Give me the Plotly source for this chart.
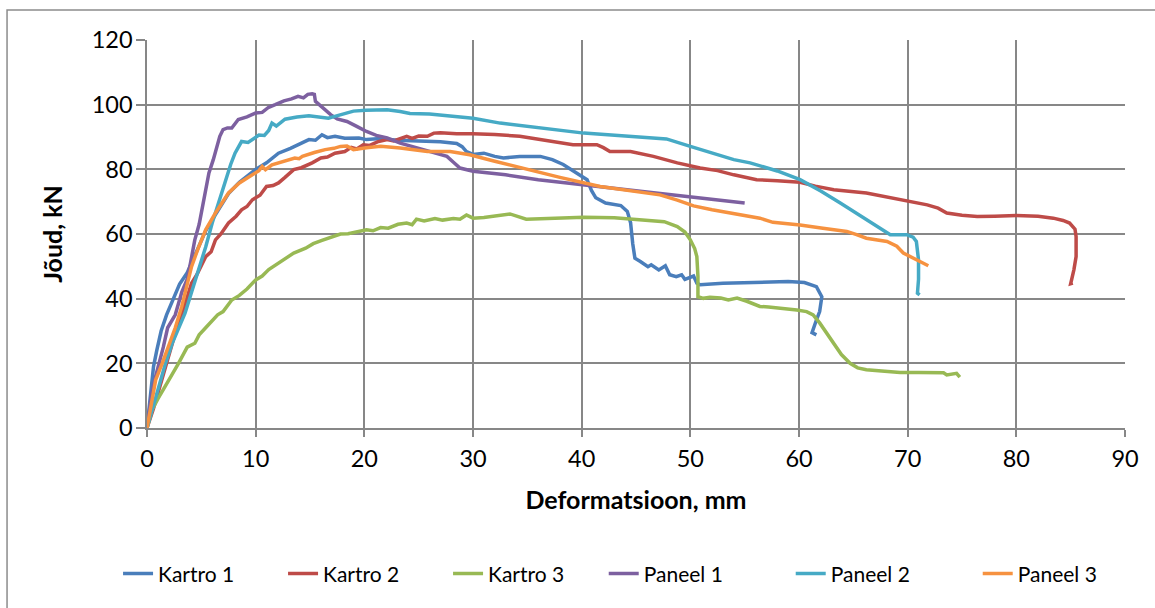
import plotly.graph_objects as go

# Force–deformation curves (deformation in mm, force in kN)
kartro1_x = [0, 0.3, 0.6, 0.9, 1.3, 1.8, 2.4, 3.0, 3.7, 4.2, 5.0, 5.4, 6.3, 7.5, 8.5, 10, 11, 12.1, 13.2, 14.2,
             14.9, 15.5, 16.1, 16.6, 17.3, 18.2, 19.5, 20.2, 21.5, 23, 25, 27, 28.5, 29, 29.4, 30, 31, 32, 32.8,
             34.3, 36.2, 37.3, 38.3, 39.3, 40.5, 40.9, 41.3, 42.2, 43.6, 44.2, 44.5, 44.7, 44.9, 45.4, 46.1,
             46.4, 47.1, 47.7, 48.1, 48.7, 49.2, 49.5, 50.3, 50.6, 50.9, 53, 56.4, 59, 60.5, 61.6, 62.1, 61.9,
             61.6, 61.2, 61.6]
kartro1_y = [0, 10, 19, 24, 30, 35, 40, 44.5, 48, 52, 58, 61, 66, 72.5, 76, 80, 82, 85, 86.5, 88,
             89.2, 89, 90.7, 89.8, 90.2, 89.6, 89.7, 89.2, 89.5, 89, 88.8, 88.5, 88, 87, 85.5, 84.6, 85, 84, 83.5,
             84, 84, 83, 81.5, 79.5, 76.8, 73.5, 71.2, 69.6, 68.8, 67, 63.5, 57, 52.5, 51.5, 49.9,
             50.5, 48.9, 50.2, 47.4, 46.8, 47.4, 46, 47, 44.8, 44.3, 44.8, 45.2, 45.3, 45, 43.7, 40.6, 36,
             33.4, 29.5, 28.8]

kartro2_x = [0, 0.6, 1.2, 1.8, 2.4, 3.0, 3.6, 4.1, 4.6, 5.0, 5.4, 5.9, 6.3, 6.8, 7.5, 8.2, 8.7, 9.2, 9.7, 10.4,
             11, 11.6, 12.1, 12.7, 13.5, 14.2, 15.2, 16.0, 16.6, 17.3, 18.2, 18.8, 19.3, 19.9, 20.5, 21.2, 22.1,
             22.7, 23.3, 23.9, 24.4, 25, 25.8, 26.4, 27, 28.5, 30, 32, 34.3, 35.5, 37.1, 39.2, 41.4, 42, 42.6,
             44.5, 46.6, 48.8, 50.9, 52.5, 54, 56.1, 58, 60.1, 61.5, 63.2, 66.2, 69.3, 71.8, 72.8, 73.6, 75,
             76.4, 78, 80, 82, 83.4, 84.3, 84.9, 85.4, 85.5, 85.5, 85.5, 85.3, 85.1, 85.0, 85.2]
kartro2_y = [0, 6, 13, 20, 27, 33, 39, 44.8, 47.5, 50, 53, 54.5, 58.2, 60, 63.4, 65.5, 67.5, 68.5, 70.6, 72,
             74.7, 75, 75.8, 77.5, 79.9, 80.5, 82, 83.5, 83.8, 85, 85.5, 86.8, 86.3, 87.6, 87.4, 88.5, 89.2,
             88.8, 89.5, 90.2, 89.6, 90.3, 90.2, 91.2, 91.3, 91, 91, 90.8, 90.2, 89.6, 88.6, 87.6, 87.6, 86.7, 85.5,
             85.5, 84, 82, 80.4, 79.6, 78.3, 76.8, 76.5, 76, 74.8, 73.7, 72.7, 70.6, 69, 68, 66.5, 65.8,
             65.4, 65.5, 65.7, 65.5, 64.9, 64.2, 63.4, 61.5, 59.2, 56, 53, 49, 45.8, 44.6, 44.8]

kartro3_x = [0, 0.46, 1.0, 1.7, 2.3, 2.9, 3.3, 3.7, 4.4, 4.8, 5.4, 6.0, 6.5, 7.0, 7.3, 7.8, 8.5, 9.2, 10, 10.6,
             11.2, 12.1, 12.7, 13.5, 14.6, 15.3, 16.1, 17, 17.8, 18.5, 19.2, 19.8, 20.2, 20.8, 21.5, 22.2, 23.1,
             23.9, 24.4, 24.8, 25.5, 26.5, 27.2, 28.2, 28.8, 29.4, 30, 31, 32, 33.4, 34.9, 37, 40.2, 43, 45,
             46.6, 47.6, 48.8, 49.5, 50, 50.4, 50.6, 50.7, 50.7, 51.2, 51.8, 52.8, 53.5, 54.3, 55.2, 55.8, 56.4,
             57.2, 58.5, 59.8, 60.7, 61.3, 61.9, 62.6, 63.2, 63.9, 64.7, 65.4, 66.2, 67.5, 69.3, 71, 73.3, 73.6,
             74.1, 74.5, 74.8]
kartro3_y = [0, 5.6, 9, 12.8, 16.5, 20, 22.5, 25, 26.2, 28.8, 31, 33.4, 35, 36, 37.5, 39.6, 41, 43, 45.8, 47,
             49, 51, 52.5, 54.1, 55.6, 57, 58, 59.2, 60, 60.1, 60.6, 60.8, 61.3, 61, 62, 61.8, 63,
             63.4, 62.9, 64.6, 64, 64.8, 64.3, 64.8, 64.6, 65.9, 64.9, 65.1, 65.6, 66.2, 64.6, 64.8, 65.2, 65, 64.5,
             64.2, 63.8, 62.3, 60.6, 58.2, 55.5, 53, 47, 40.6, 40.1, 40.4, 40.2, 39.6, 40.2, 39.2, 38.3, 37.6,
             37.4, 37, 36.5, 36, 35, 32.5, 29, 26.2, 22.7, 20, 18.6, 18, 17.6, 17.2, 17.2, 17.1, 16.4,
             16.6, 16.9, 15.7]

paneel1_x = [0, 0.4, 0.8, 1.1, 1.5, 1.9, 2.6, 3.2, 3.7, 4.0, 4.4, 4.8, 5.1, 5.5, 5.7, 6.1, 6.4, 6.7, 7.0, 7.4,
             7.8, 8.4, 9.2, 10, 10.6, 11.2, 11.8, 12.6, 13.3, 13.9, 14.4, 14.8, 15.2, 15.4, 15.5, 16.2, 16.9,
             17.5, 18.4, 19.3, 20.2, 21.1, 22.1, 23.3, 25.5, 27.6, 28.2, 28.8, 30, 33, 36, 40.2, 45, 50, 55]
paneel1_y = [0, 10, 16, 19.5, 25, 31, 35, 42, 46, 51, 58.2, 63, 68.5, 74.7, 78.9, 83, 87.1, 90.2, 92.3, 92.8,
             92.8, 95.4, 96.2, 97.4, 97.6, 99.2, 100, 101.2, 101.8, 102.6, 102.1, 103.2, 103.4, 103.2, 101, 99, 96.9,
             95.6, 94.8, 93.3, 91.7, 90.5, 89.7, 88.1, 86, 84, 82.2, 80.4, 79.4, 78.3, 76.8, 75.2, 73.3, 71.6, 69.6]

paneel2_x = [0, 0.6, 1.2, 1.7, 2.3, 2.9, 3.5, 4.1, 4.75, 5.4, 6.0, 6.6, 7.2, 7.7, 8.1, 8.7, 9.3, 10.3, 10.8,
             11.2, 11.5, 11.9, 12.7, 13.8, 14.9, 16.0, 16.7, 17.2, 18.2, 19, 20.1, 21.2, 22.1, 23.3, 24.2, 26,
             27.9, 30, 32.5, 36, 40.2, 44, 47.8, 50, 52, 54, 55.5, 58, 60.1, 62, 63.8, 66.2, 68.4, 69.9, 70.5,
             70.8, 71, 71, 70.9, 71.1]
paneel2_y = [0, 7, 14, 20, 26, 31, 35.5, 42, 48.9, 56, 63.4, 70, 76.8, 81.5, 85, 88.6, 88.3, 90.6, 90.5,
             92, 94.3, 93.4, 95.5, 96.2, 96.6, 96, 95.8, 96.3, 97.4, 98, 98.3, 98.5, 98.4, 97.9, 97.3, 97.1,
             96.6, 95.8, 94.3, 92.8, 91.2, 90.3, 89.4, 87.1, 85, 83, 82, 79.5, 76.8, 73.3, 69.6, 64.4, 59.8, 59.8, 59,
             57.7, 52, 46, 41.7, 41.2]

paneel3_x = [0, 0.4, 0.8, 1.4, 2, 2.6, 3.2, 3.7, 4.1, 4.7, 5.4, 6.3, 7.5, 8.5, 9.7, 10.3, 10.6, 10.9, 11.5,
             12.5, 13.6, 14.0, 14.3, 15.4, 16.4, 17.2, 17.8, 18.4, 19, 20.2, 21.5, 23.3, 25.8, 27.9, 29.7, 32,
             35, 38, 41.7, 44.5, 47.2, 48.8, 50.3, 52, 54, 56.4, 57.6, 58.3, 60.1, 62.2, 64.4, 65.3, 66.2, 68.1,
             69, 69.6, 70.8, 71.9]
paneel3_y = [0, 8, 14.9, 20, 25.2, 31, 37.6, 44, 49.9, 55.5, 61.3, 66.5, 72.7, 75.8, 78.3, 79.6, 80.9, 79.9, 81.4,
             82.3, 83.5, 83.3, 84, 85.2, 86.1, 86.5, 87.1, 87.2, 86.1, 86.7, 87.1, 86.6, 85.5, 85.5, 84.5, 82.5,
             79.9, 77.5, 74.7, 73.3, 72.1, 70.5, 68.7, 67.5, 66.2, 64.9, 63.6, 63.4, 62.8, 61.8, 60.8, 59.8, 58.7, 57.7,
             56.2, 54.1, 52.2, 50.2]

series = [
    ("Kartro 1", kartro1_x, kartro1_y, "#4A7EBB", "legend"),
    ("Kartro 2", kartro2_x, kartro2_y, "#BE4B48", "legend"),
    ("Kartro 3", kartro3_x, kartro3_y, "#98B954", "legend"),
    ("Paneel 1", paneel1_x, paneel1_y, "#7D60A0", "legend2"),
    ("Paneel 2", paneel2_x, paneel2_y, "#46AAC5", "legend2"),
    ("Paneel 3", paneel3_x, paneel3_y, "#F69240", "legend2"),
]

x_ticks = [0, 10, 20, 30, 40, 50, 60, 70, 80, 90]
y_ticks = [0, 20, 40, 60, 80, 100, 120]

FONT = "Lato, Carlito, Calibri, sans-serif"
GRID = "#878787"

fig = go.Figure()
for name, xs, ys, color, leg in series:
    fig.add_trace(go.Scatter(
        x=xs, y=ys, name=name, mode="lines", legend=leg,
        line=dict(color=color, width=3.5),
    ))

legend_common = dict(
    orientation="h", xanchor="left", y=-0.376, yanchor="middle",
    font=dict(size=21, family=FONT), entrywidthmode="pixels",
    bgcolor="rgba(0,0,0,0)",
)

fig.update_layout(
    width=1155, height=608,
    margin=dict(l=147, r=30, t=40, b=180, autoexpand=False),
    paper_bgcolor="white", plot_bgcolor="white",
    font=dict(family=FONT, color="black", size=21),
    showlegend=True,
    legend=dict(legend_common, x=-0.0296, entrywidth=120),
    legend2=dict(legend_common, x=0.467, entrywidth=142),
    xaxis=dict(
        range=[0, 90], tickvals=x_ticks, ticktext=[str(v) for v in x_ticks],
        showgrid=True, gridcolor=GRID, gridwidth=1.5,
        showline=True, linecolor=GRID, linewidth=1.5,
        ticks="outside", ticklen=7, tickcolor=GRID, tickwidth=1.5,
        ticklabelstandoff=2,
        zeroline=False, tickfont=dict(size=23.5),
        title=dict(text="<b>Deformatsioon, mm</b>", font=dict(size=25), standoff=21),
    ),
    yaxis=dict(
        range=[0, 120], tickvals=y_ticks, ticktext=[str(v) for v in y_ticks],
        showgrid=True, gridcolor=GRID, gridwidth=1.5,
        showline=True, linecolor=GRID, linewidth=1.5,
        ticks="outside", ticklen=9, tickcolor=GRID, tickwidth=1.5,
        ticklabelstandoff=-1,
        zeroline=False, tickfont=dict(size=23.5),
        title=dict(text="<b>Jõud, kN</b>", font=dict(size=25), standoff=22),
    ),
    shapes=[
        # outer chart frame
        dict(type="rect", xref="paper", yref="paper",
             x0=-0.1431, y0=-0.62, x1=1.2, y1=1.0773,
             line=dict(color="#8C8C8C", width=1.5), fillcolor="rgba(0,0,0,0)", layer="below"),
    ],
)

fig.write_html("out.html")
